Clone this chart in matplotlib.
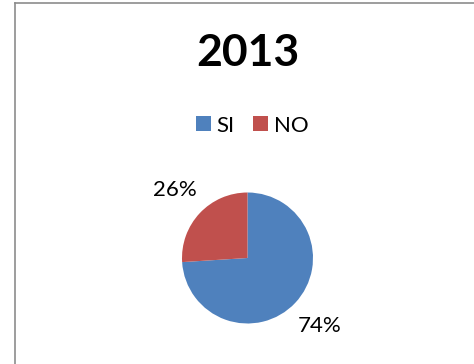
import matplotlib.pyplot as plt
from matplotlib.patches import Patch
from matplotlib.lines import Line2D

plt.rcParams['font.family'] = ['Lato', 'DejaVu Sans']

# data
title = '2013'
labels = ['SI', 'NO']
values = [74, 26]
colors = ['#4F81BD', '#C0504D']

W, H = 474, 364
fig = plt.figure(figsize=(W / 100, H / 100), dpi=100)

# chart frame (only top and left edges fall inside the image)
fig.add_artist(Line2D([14.5 / W, 14.5 / W], [0, 1 - 3 / H], color='#8c8c8c', lw=1.2))
fig.add_artist(Line2D([14.5 / W, 1], [1 - 3 / H, 1 - 3 / H], color='#8c8c8c', lw=1.2))

# pie: center (247.5, 258) px, radius 65.5 px
cx, cy, r = 247.5, 258, 65.5
ax = fig.add_axes([(cx - r) / W, (H - cy - r) / H, 2 * r / W, 2 * r / H])
ax.pie(values, colors=colors, startangle=90, counterclock=False,
       autopct='%d%%', pctdistance=1.52,
       textprops={'fontsize': 16, 'color': 'black'})
ax.set_xlim(-1, 1)
ax.set_ylim(-1, 1)

fig.text(247.5 / W, 1 - 53 / H, title, ha='center', va='center',
         fontsize=32, fontweight='bold')

handles = [Patch(facecolor=c, edgecolor='none', label=l) for c, l in zip(colors, labels)]
fig.legend(handles=handles, loc='center', bbox_to_anchor=(252 / W, 1 - 125.5 / H),
           ncol=2, frameon=False, fontsize=16, handlelength=0.68, handleheight=0.68,
           handletextpad=0.27, columnspacing=0.8, borderpad=0)

fig.savefig('out.png', dpi=100)
